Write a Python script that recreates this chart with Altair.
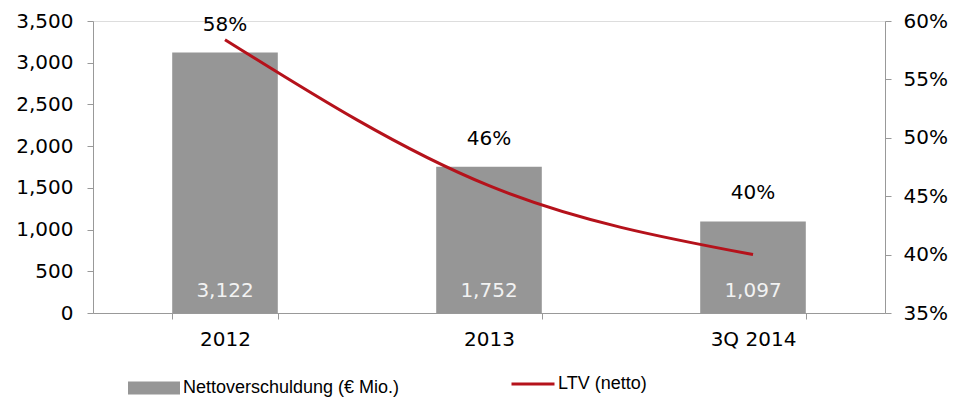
import altair as alt
import pandas as pd

categories = ["2012", "2013", "3Q 2014"]
debt = [3122, 1752, 1097]
ltv = [0.584, 0.459, 0.400]
ltv_labels = ["58%", "46%", "40%"]
bar_name = "Nettoverschuldung (€ Mio.)"
line_name = "LTV (netto)"

df = pd.DataFrame({
    "cat": categories,
    "debt": debt,
    "ltv": ltv,
    "ltv_label": ltv_labels,
    "bar_series": [bar_name] * 3,
    "line_series": [line_name] * 3,
})

FONT = "DejaVu Sans"
GRAY_AXIS = "#999999"
FS = 20

x_enc = alt.X(
    "cat:N", sort=categories, title=None,
    scale=alt.Scale(paddingInner=0.6, paddingOuter=0.3),
    axis=alt.Axis(labelAngle=0, tickBand="extent", labelFont=FONT, labelFontSize=FS,
                  labelColor="black", labelPadding=10, domainColor=GRAY_AXIS,
                  tickColor=GRAY_AXIS, tickSize=6),
)

left_scale = alt.Scale(domain=[0, 3500], nice=False)

bars = alt.Chart(df).mark_bar(color="#969696").encode(
    x=x_enc,
    y=alt.Y("debt:Q", scale=left_scale, title=None,
            axis=alt.Axis(values=list(range(0, 3501, 500)), format=",.0f", grid=False,
                          labelFont=FONT, labelFontSize=FS, labelColor="black",
                          labelPadding=14, domainColor=GRAY_AXIS, tickColor=GRAY_AXIS,
                          tickSize=6)),
    color=alt.Color("bar_series:N", scale=alt.Scale(domain=[bar_name], range=["#969696"]),
                    legend=alt.Legend(title=None, orient="none", legendX=35, legendY=341,
                                      symbolType="M-1,-0.25H1V0.25H-1Z", symbolSize=2704,
                                      symbolStrokeWidth=0, labelFont="Liberation Sans",
                                      labelFontSize=18, labelColor="black", padding=0,
                                      labelOffset=3, labelLimit=500)),
)

debt_text = alt.Chart(df).mark_text(
    font=FONT, fontSize=FS, color="#f2f2f2", baseline="alphabetic", dy=-16
).encode(
    x=x_enc,
    y=alt.Y("zero:Q", scale=left_scale, axis=None),
    text=alt.Text("debt:Q", format=",.0f"),
).transform_calculate(zero="0")

pct_text = alt.Chart(df).mark_text(
    font=FONT, fontSize=FS, color="black", baseline="alphabetic", dy=-22
).encode(
    x=x_enc,
    y=alt.Y("debt:Q", scale=left_scale, axis=None),
    text="ltv_label:N",
)

line = alt.Chart(df).mark_line(strokeWidth=3, interpolate="monotone").encode(
    x=x_enc,
    y=alt.Y("ltv:Q", scale=alt.Scale(domain=[0.35, 0.60], nice=False), title=None,
            axis=alt.Axis(orient="right", values=[0.35, 0.40, 0.45, 0.50, 0.55, 0.60],
                          format=".0%", grid=False, labelFont=FONT, labelFontSize=FS,
                          labelColor="black", labelPadding=12, domainColor=GRAY_AXIS,
                          tickColor=GRAY_AXIS, tickSize=6)),
    stroke=alt.Stroke("line_series:N", scale=alt.Scale(domain=[line_name], range=["#B5121B"]),
                      legend=alt.Legend(title=None, orient="none", legendX=417, legendY=340,
                                        symbolType="stroke", symbolSize=1849,
                                        symbolStrokeWidth=3, labelFont="Liberation Sans",
                                        labelFontSize=18, labelColor="black", padding=0,
                                        labelOffset=2, labelLimit=500)),
)

chart = alt.layer(bars, debt_text, pct_text, line).resolve_scale(
    y="independent"
).properties(
    width=792, height=292,
    autosize=alt.AutoSizeParams(type="none"),
    padding={"left": 85, "top": 13, "right": 64, "bottom": 98},
).configure_view(stroke=None).configure(background="white")

chart.save("out.html", embed_options={"renderer": "svg", "actions": False})
